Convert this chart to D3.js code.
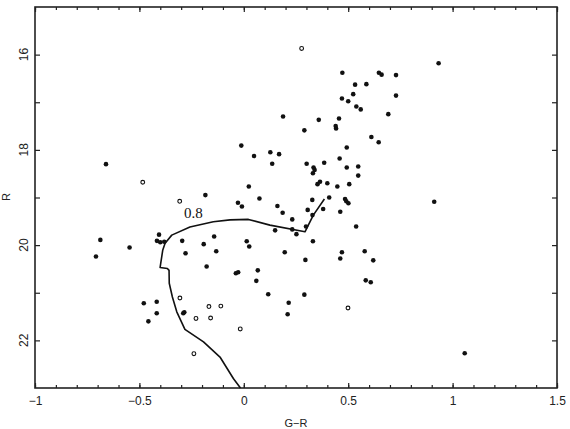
<!DOCTYPE html>
<html>
<head>
<meta charset="utf-8">
<script src="https://cdn.jsdelivr.net/npm/d3@7.9.0/dist/d3.min.js"></script>
<style>
  body { margin: 0; background: #fff; }
  svg { display: block; }
  .tick text { font-family: "Liberation Sans", Arial, sans-serif; font-size: 12px; fill: #222; }
  .tick line { stroke: #222; stroke-width: 1.2; }
</style>
</head>
<body>
<svg id="cmd" width="570" height="429"></svg>
<script>
// filled symbols (G-R, R)
const filledGR = [-0.660, -0.184, 0.188, -0.012, 0.049, 0.127, 0.169, 0.136, 0.024, 0.075,
  -0.028, -0.009, 0.161, 0.186, 0.232, 0.933, 0.472, 0.647, 0.660, 0.729,
  0.533, 0.587, 0.524, 0.470, 0.500, 0.729, 0.539, 0.560, 0.692, 0.359,
  0.456, 0.440, 0.442, 0.290, 0.611, 0.646, 0.493, 0.459, 0.301, 0.385,
  0.334, 0.339, 0.331, 0.493, 0.548, 0.548, 0.353, 0.365, 0.400, 0.448,
  0.505, 0.912, 0.328, 0.409, 0.485, 0.491, 0.501, 0.306, 0.380, 0.462,
  0.329, 0.538, 0.150, 0.232, 0.252, 0.298, 0.331, 0.196, 0.295, 0.470,
  0.462, 0.579, 0.620, 0.584, 0.608, 0.290, 0.215, 0.210, 1.058, -0.687,
  -0.708, -0.547, -0.406, -0.416, -0.400, -0.381, -0.295, -0.279, -0.192, -0.142,
  -0.132, -0.178, 0.014, 0.026, -0.038, -0.027, 0.067, 0.060, 0.117, -0.479,
  -0.417, -0.417, -0.457, -0.285, -0.290];
const filledR = [18.30, 18.95, 17.30, 17.91, 18.13, 18.05, 18.09, 18.29, 18.77, 19.02,
  19.11, 19.19, 19.18, 19.32, 19.46, 16.18, 16.38, 16.38, 16.42, 16.43,
  16.63, 16.62, 16.83, 16.92, 16.98, 16.86, 17.09, 17.15, 17.25, 17.37,
  17.34, 17.50, 17.55, 17.59, 17.73, 17.84, 17.95, 18.18, 18.29, 18.27,
  18.37, 18.42, 18.49, 18.37, 18.35, 18.54, 18.72, 18.67, 18.70, 18.77,
  18.72, 19.09, 19.05, 19.00, 19.03, 19.08, 19.12, 19.26, 19.24, 19.30,
  19.37, 19.61, 19.69, 19.67, 19.77, 19.61, 19.92, 20.15, 20.31, 20.15,
  20.28, 20.13, 20.32, 20.74, 20.78, 21.04, 21.21, 21.45, 22.27, 19.89,
  20.24, 20.05, 19.78, 19.91, 19.94, 19.93, 19.91, 20.17, 19.98, 19.82,
  20.13, 20.45, 19.92, 20.03, 20.59, 20.57, 20.53, 20.75, 21.03, 21.22,
  21.19, 21.43, 21.60, 21.41, 21.43];

// open symbols
const openGR = [0.277, -0.484, -0.307, -0.306, -0.167, -0.110, -0.229, -0.159, -0.017, -0.239, 0.499];
const openR = [15.87, 18.68, 19.08, 21.11, 21.29, 21.28, 21.54, 21.53, 21.76, 22.28, 21.32];

// isochrone (0.8)
const isoGR = [-0.016, -0.050, -0.114, -0.193, -0.282, -0.321, -0.342, -0.357, -0.358, -0.366,
  -0.401, -0.388, -0.377, -0.345, -0.258, -0.146, -0.066, 0.022, 0.125, 0.293, 0.333, 0.386];
const isoR = [23.00, 22.80, 22.35, 22.03, 21.77, 21.40, 21.09, 20.80, 20.53, 20.49,
  20.47, 20.10, 19.96, 19.79, 19.62, 19.51, 19.47, 19.46, 19.58, 19.72, 19.37, 19.03];
const isoLabel = '0.8';

const xMajor = [-1, -0.5, 0, 0.5, 1, 1.5];
const xMinor = d3.range(-10, 16).map(d => d / 10);
const yTicks = [16, 17, 18, 19, 20, 21, 22];
const yLabels = [16, 18, 20, 22];

const plotL = 35, plotR = 557, plotT = 7, plotB = 388;

let x = d3.scaleLinear().domain([-1, 1.5]).range([plotL, plotR]);
let y = d3.scaleLinear().domain([15, 23]).range([plotT, plotB]);

let svg = d3.select('#cmd');
svg.append('rect').attr('width', 570).attr('height', 429).attr('fill', '#fff');

// ticks, all pointing inward
svg.append('g').attr('transform', `translate(0,${plotB})`)
  .call(d3.axisBottom(x).tickValues(xMinor).tickSize(-3).tickFormat(''));
svg.append('g').attr('transform', `translate(0,${plotB})`)
  .call(d3.axisBottom(x).tickValues(xMajor).tickSize(-5).tickPadding(8)
    .tickFormat(d => (d < 0 ? '\u2212' : '') + Math.abs(d)));
svg.append('g').attr('transform', `translate(0,${plotT})`)
  .call(d3.axisTop(x).tickValues(xMinor).tickSize(-3).tickFormat(''));
svg.append('g').attr('transform', `translate(0,${plotT})`)
  .call(d3.axisTop(x).tickValues(xMajor).tickSize(-5).tickFormat(''));
svg.append('g').attr('transform', `translate(${plotL},0)`)
  .call(d3.axisLeft(y).tickValues(yTicks).tickSize(-5).tickFormat(''));
svg.append('g').attr('transform', `translate(${plotR},0)`)
  .call(d3.axisRight(y).tickValues(yTicks).tickSize(-5).tickFormat(''));
svg.selectAll('.domain').remove();

// rotated y labels
svg.selectAll('.ylab')
  .data(yLabels)
  .join('text')
  .attr('transform', d => `translate(28,${y(d)}) rotate(-90)`)
  .attr('text-anchor', 'middle')
  .attr('font-family', '"Liberation Sans", Arial, sans-serif')
  .attr('font-size', 12)
  .attr('fill', '#222')
  .text(d => d);

svg.append('rect')
  .attr('x', plotL).attr('y', plotT)
  .attr('width', plotR - plotL).attr('height', plotB - plotT)
  .attr('fill', 'none').attr('stroke', '#222').attr('stroke-width', 1.6);

svg.append('text')
  .attr('transform', 'translate(10,197) rotate(-90)')
  .attr('text-anchor', 'middle')
  .attr('font-family', '"Liberation Sans", Arial, sans-serif')
  .attr('font-size', 11)
  .attr('fill', '#222')
  .text('R');

svg.append('text')
  .attr('x', 296).attr('y', 427)
  .attr('text-anchor', 'middle')
  .attr('font-family', '"Liberation Sans", Arial, sans-serif')
  .attr('font-size', 11)
  .attr('fill', '#222')
  .text('G\u2212R');

// isochrone
let iso = isoGR.map((g, i) => [g, isoR[i]]);
svg.append('path')
  .attr('d', d3.line().x(d => x(d[0])).y(d => y(d[1]))(iso))
  .attr('fill', 'none')
  .attr('stroke', '#111')
  .attr('stroke-width', 1.6)
  .attr('stroke-linejoin', 'round');

svg.append('text')
  .attr('x', 184).attr('y', 218)
  .attr('font-family', '"Liberation Serif", "Times New Roman", serif')
  .attr('font-size', 15)
  .attr('fill', '#111')
  .text(isoLabel);

// stars
svg.selectAll('.filled')
  .data(filledGR.map((g, i) => [g, filledR[i]]))
  .join('circle')
  .attr('cx', d => x(d[0]))
  .attr('cy', d => y(d[1]))
  .attr('r', 2.3)
  .attr('fill', '#111');

svg.selectAll('.open')
  .data(openGR.map((g, i) => [g, openR[i]]))
  .join('circle')
  .attr('cx', d => x(d[0]))
  .attr('cy', d => y(d[1]))
  .attr('r', 1.9)
  .attr('fill', '#fff')
  .attr('stroke', '#111')
  .attr('stroke-width', 1.1);
</script>
</body>
</html>
